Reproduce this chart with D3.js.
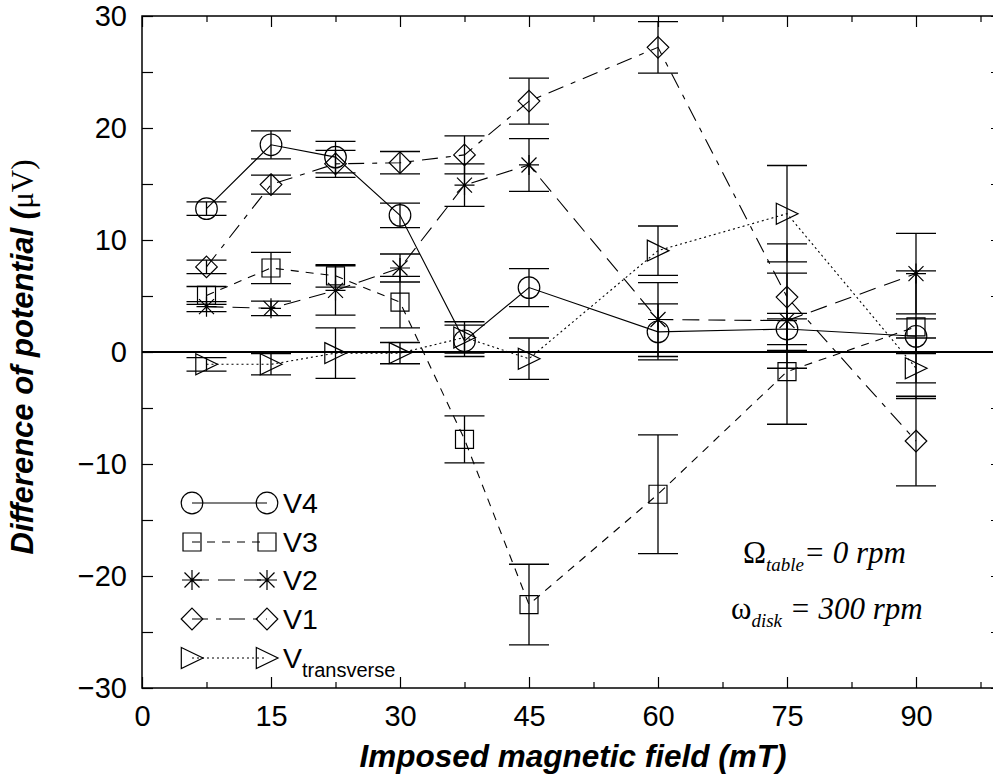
<!DOCTYPE html>
<html><head><meta charset="utf-8">
<script src="https://cdn.jsdelivr.net/npm/d3@7/dist/d3.min.js"></script>
<style>body{margin:0;background:#fff}svg{display:block}</style>
</head><body><svg id="c" width="993" height="778"></svg>
<script>
// ---- data ----
const fieldValues = [7.5, 15, 22.5, 30, 37.5, 45, 60, 75, 90];
const v4Values   = [12.8, 18.5, 17.4, 12.2, 1.0, 5.75, 1.8, 2.05, 1.4];
const v4Errors   = [0.6, 1.25, 1.4, 1.1, 1.4, 1.7, 2.5, 1.4, 1.55];
const v3Values   = [5.05, 7.5, 6.8, 4.45, -7.8, -22.55, -12.7, -1.75, 2.25];
const v3Errors   = [0.8, 1.4, 1.0, 2.3, 2.1, 3.6, 5.3, 4.7, 5.0];
const v2Values   = [4.05, 3.9, 5.5, 7.5, 14.9, 16.7, 2.9, 2.8, 7.0];
const v2Errors   = [0.45, 0.65, 2.2, 1.25, 1.9, 2.35, 3.3, 4.25, 3.6];
const v1Values   = [7.6, 14.95, 16.8, 16.9, 17.6, 22.4, 27.2, 4.9, -7.95];
const v1Errors   = [0.6, 0.85, 1.2, 1.0, 1.7, 2.05, 2.3, 4.75, 4.0];
const vtValues   = [-1.1, -1.1, -0.1, -0.1, 1.3, -0.6, 9.05, 12.35, -1.45];
const vtErrors   = [0.6, 0.95, 2.25, 0.95, 1.4, 1.85, 2.2, 4.3, 2.7];
const seriesNames = ["V4", "V3", "V2", "V1", "V"];
const seriesSubs  = ["", "", "", "", "transverse"];
const xTickValues = [0, 15, 30, 45, 60, 75, 90];
const xMinorValues = [7.5, 22.5, 37.5, 52.5, 67.5, 82.5, 97.5];
const yTickValues = [-30, -20, -10, 0, 10, 20, 30];
const yMinorValues = [-25, -15, -5, 5, 15, 25];

// ---- build ----
const svg = d3.select("#c");
const x = d3.scaleLinear().domain([0, 100]).range([142, 1002]);
const y = d3.scaleLinear().domain([-30, 30]).range([688, 16]);
const SANS = "'Liberation Sans', Arial, Helvetica, sans-serif";
const SERIF = "'Liberation Serif', 'Times New Roman', serif";

const series = [
  {name: seriesNames[0], sub: seriesSubs[0], vals: v4Values, errs: v4Errors, shape: "circle",   dash: null},
  {name: seriesNames[1], sub: seriesSubs[1], vals: v3Values, errs: v3Errors, shape: "square",   dash: "8,7"},
  {name: seriesNames[2], sub: seriesSubs[2], vals: v2Values, errs: v2Errors, shape: "star",     dash: "17,9"},
  {name: seriesNames[3], sub: seriesSubs[3], vals: v1Values, errs: v1Errors, shape: "diamond",  dash: "16,8,5,8"},
  {name: seriesNames[4], sub: seriesSubs[4], vals: vtValues, errs: vtErrors, shape: "triangle", dash: "2,3"}
];

function shapePath(shape, cx, cy) {
  const p = d3.path();
  if (shape === "circle") { p.moveTo(cx + 10.8, cy); p.arc(cx, cy, 10.8, 0, 2 * Math.PI); }
  else if (shape === "square") { p.rect(cx - 9, cy - 9, 18, 18); }
  else if (shape === "diamond") {
    p.moveTo(cx, cy - 10.8); p.lineTo(cx + 10.8, cy); p.lineTo(cx, cy + 10.8); p.lineTo(cx - 10.8, cy); p.closePath();
  } else if (shape === "triangle") {
    p.moveTo(cx - 10.7, cy - 10.5); p.lineTo(cx + 11, cy); p.lineTo(cx - 10.7, cy + 10.5); p.closePath();
  } else if (shape === "star") {
    p.moveTo(cx - 10, cy); p.lineTo(cx + 10, cy);
    p.moveTo(cx, cy - 10); p.lineTo(cx, cy + 10);
    p.moveTo(cx - 7.5, cy - 7.5); p.lineTo(cx + 7.5, cy + 7.5);
    p.moveTo(cx - 7.5, cy + 7.5); p.lineTo(cx + 7.5, cy - 7.5);
  }
  return p.toString();
}

// zero line
svg.append("line").attr("x1", x(0)).attr("x2", x(100)).attr("y1", y(0)).attr("y2", y(0))
  .attr("stroke", "#000").attr("stroke-width", 2.2);

// axes
function styleAxis(g) { g.select(".domain").remove(); g.selectAll("line").attr("stroke", "#000").attr("stroke-width", 1.2); }
const xAxisB = svg.append("g").attr("transform", `translate(0,${y(-30)})`)
  .call(d3.axisBottom(x).tickValues(xTickValues).tickSizeInner(-11).tickSizeOuter(0).tickPadding(17).tickFormat(d3.format("d")));
styleAxis(xAxisB);
xAxisB.selectAll("text").attr("font-family", SANS).attr("font-size", 29).attr("fill", "#000");
const xMinB = svg.append("g").attr("transform", `translate(0,${y(-30)})`)
  .call(d3.axisBottom(x).tickValues(xMinorValues).tickSizeInner(-6).tickSizeOuter(0).tickFormat(""));
styleAxis(xMinB);
const xAxisT = svg.append("g").attr("transform", `translate(0,${y(30)})`)
  .call(d3.axisTop(x).tickValues(xTickValues).tickSizeInner(-11).tickSizeOuter(0).tickFormat(""));
styleAxis(xAxisT);
const xMinT = svg.append("g").attr("transform", `translate(0,${y(30)})`)
  .call(d3.axisTop(x).tickValues(xMinorValues).tickSizeInner(-6).tickSizeOuter(0).tickFormat(""));
styleAxis(xMinT);
const yAxisL = svg.append("g").attr("transform", `translate(${x(0)},0)`)
  .call(d3.axisLeft(y).tickValues(yTickValues).tickSizeInner(-11).tickSizeOuter(0).tickPadding(15)
    .tickFormat(d => d < 0 ? "\u2212" + Math.abs(d) : String(d)));
styleAxis(yAxisL);
yAxisL.selectAll("text").attr("font-family", SANS).attr("font-size", 29).attr("fill", "#000");
const yMinL = svg.append("g").attr("transform", `translate(${x(0)},0)`)
  .call(d3.axisLeft(y).tickValues(yMinorValues).tickSizeInner(-11).tickSizeOuter(0).tickFormat(""));
styleAxis(yMinL);
const yAxisR = svg.append("g").attr("transform", `translate(${x(100)},0)`)
  .call(d3.axisRight(y).tickValues(yTickValues.concat(yMinorValues)).tickSizeInner(-11).tickSizeOuter(0).tickFormat(""));
styleAxis(yAxisR);

// frame
svg.append("rect").attr("x", x(0)).attr("y", y(30)).attr("width", x(100) - x(0)).attr("height", y(-30) - y(30))
  .attr("fill", "none").attr("stroke", "#000").attr("stroke-width", 1.5);

// lines
const line = d3.line().x(d => x(d[0])).y(d => y(d[1]));
series.forEach(s => {
  const pts = fieldValues.map((f, i) => [f, s.vals[i]]);
  svg.append("path").attr("d", line(pts)).attr("fill", "none").attr("stroke", "#000")
    .attr("stroke-width", 1.1).attr("stroke-dasharray", s.dash);
});

// error bars
series.forEach(s => {
  const g = svg.append("g").attr("stroke", "#000").attr("stroke-width", 1.3);
  fieldValues.forEach((f, i) => {
    const cx = x(f), top = y(s.vals[i] + s.errs[i]), bot = y(s.vals[i] - s.errs[i]);
    g.append("line").attr("x1", cx).attr("x2", cx).attr("y1", top).attr("y2", bot);
    g.append("line").attr("x1", cx - 20).attr("x2", cx + 20).attr("y1", top).attr("y2", top);
    g.append("line").attr("x1", cx - 20).attr("x2", cx + 20).attr("y1", bot).attr("y2", bot);
  });
});

// markers
series.forEach(s => {
  fieldValues.forEach((f, i) => {
    svg.append("path").attr("d", shapePath(s.shape, x(f), y(s.vals[i])))
      .attr("fill", "none").attr("stroke", "#000").attr("stroke-width", 1.2);
  });
});

// legend
const legRowY = [503, 542, 580, 619, 658];
series.forEach((s, i) => {
  const ly = legRowY[i];
  svg.append("line").attr("x1", 192).attr("x2", 267).attr("y1", ly).attr("y2", ly)
    .attr("stroke", "#000").attr("stroke-width", 1.1).attr("stroke-dasharray", s.dash);
  [192, 267].forEach(lx => svg.append("path").attr("d", shapePath(s.shape, lx, ly))
    .attr("fill", "none").attr("stroke", "#000").attr("stroke-width", 1.2));
  const t = svg.append("text").attr("x", 283).attr("y", ly + 10).attr("font-family", SANS)
    .attr("font-size", 28.5).attr("fill", "#000");
  t.append("tspan").text(s.name);
  if (s.sub) t.append("tspan").attr("font-size", 20).attr("dy", 9).text(s.sub);
});

// annotations
const a1 = svg.append("text").attr("x", 743).attr("y", 563).attr("font-family", SERIF).attr("font-size", 31).attr("fill", "#000");
a1.append("tspan").text("\u03A9");
a1.append("tspan").attr("font-style", "italic").attr("font-size", 19).attr("dy", 8).text("table");
a1.append("tspan").attr("font-style", "italic").attr("dy", -8).text("= 0 rpm");
const a2 = svg.append("text").attr("x", 731).attr("y", 619).attr("font-family", SERIF).attr("font-size", 31).attr("fill", "#000");
a2.append("tspan").text("\u03C9");
a2.append("tspan").attr("font-style", "italic").attr("font-size", 19).attr("dy", 8).text("disk");
a2.append("tspan").attr("font-style", "italic").attr("dy", -8).text(" = 300 rpm");

// axis titles
svg.append("text").attr("x", 573).attr("y", 767).attr("text-anchor", "middle")
  .attr("font-family", SANS).attr("font-size", 31.5).attr("font-weight", "bold").attr("font-style", "italic")
  .attr("fill", "#000").text("Imposed magnetic field (mT)");
const yt = svg.append("text").attr("transform", "translate(33,357) rotate(-90)").attr("text-anchor", "middle")
  .attr("font-family", SANS).attr("font-size", 31).attr("fill", "#000");
yt.append("tspan").attr("font-weight", "bold").attr("font-style", "italic").text("Difference of potential (");
yt.append("tspan").attr("font-family", SERIF).text("\u03BCV)");
</script></body></html>
